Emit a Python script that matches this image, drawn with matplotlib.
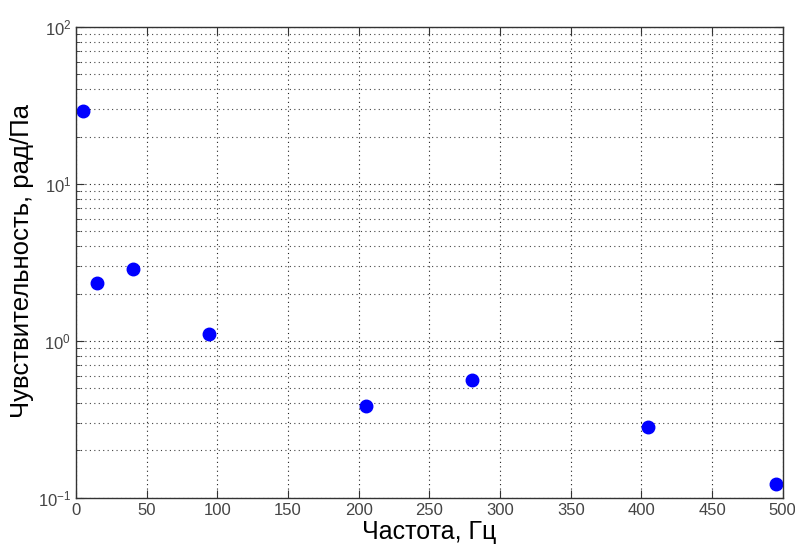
import matplotlib
matplotlib.use("Agg")
import matplotlib.pyplot as plt
from matplotlib.ticker import LogLocator, FixedLocator, NullFormatter

plt.rcParams['font.family'] = ['Liberation Sans', 'DejaVu Sans']

freq = [5, 15, 40, 94, 205, 280, 405, 495]
sens = [29.2, 2.33, 2.87, 1.10, 0.384, 0.562, 0.281, 0.122]
xticks = [0, 50, 100, 150, 200, 250, 300, 350, 400, 450, 500]

fig = plt.figure(figsize=(7.95, 5.44), dpi=100)
ax = fig.add_axes([0.0956, 0.0851, 0.889, 0.8653])

ax.semilogy(freq, sens, 'o', color='#0000ff', markersize=9, markeredgecolor='#0000ff')

ax.set_xlim(0, 500)
ax.set_ylim(0.1, 100)
ax.xaxis.set_major_locator(FixedLocator(xticks))
ax.yaxis.set_major_locator(LogLocator(base=10, numticks=10))
ax.yaxis.set_minor_locator(LogLocator(base=10, subs=range(2, 10), numticks=20))
ax.yaxis.set_minor_formatter(NullFormatter())

ax.grid(True, which='major', linestyle=(0, (1, 3)), color='#222222', linewidth=0.8)
ax.grid(True, which='minor', axis='y', linestyle=(0, (1, 3)), color='#444444', linewidth=0.8)

ax.tick_params(which='both', direction='in', top=True, right=True,
               labelsize=12, labelcolor='#444444', color='#333333')
ax.tick_params(which='major', length=6)
ax.tick_params(which='minor', length=3)
for s in ax.spines.values():
    s.set_color('#333333')
    s.set_linewidth(1.0)

ax.set_xlabel('Частота, Гц', fontsize=18, labelpad=2)
ax.set_ylabel('Чувствительность, рад/Па', fontsize=18.5)
ax.yaxis.set_label_coords(-0.059, 0.503)

fig.savefig('out.png', dpi=100)
